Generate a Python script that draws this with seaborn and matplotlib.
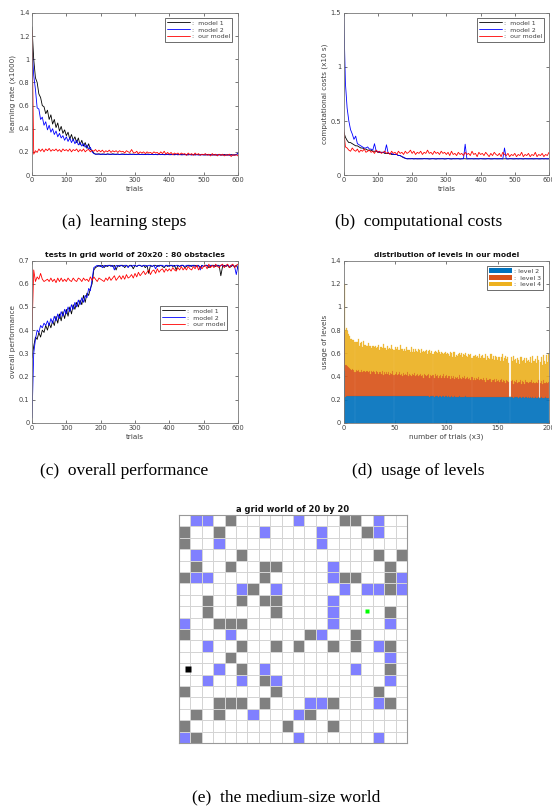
import numpy as np
import pandas as pd
import matplotlib
matplotlib.use("Agg")
import matplotlib.pyplot as plt
import seaborn as sns
from matplotlib.colors import ListedColormap
from matplotlib.ticker import FuncFormatter
from matplotlib.patches import Patch

# ---------------- data ----------------
# (a) learning rate (x1000), sampled every 5 trials from 0 to 600
a_model1 = [1.28,1.00,0.84,0.80,0.70,0.67,0.60,0.59,0.53,0.56,
            0.48,0.52,0.44,0.48,0.41,0.45,0.38,0.42,0.36,0.39,
            0.34,0.37,0.31,0.35,0.30,0.33,0.28,0.32,0.26,0.30,
            0.25,0.28,0.23,0.27,0.22,0.21,0.19,0.18,
            0.180,0.183,0.178,0.182,0.180,0.177,0.182,0.180,0.178,0.183,
            0.180,0.178,0.182,0.177,0.180,0.182,0.178,0.180,0.177,0.182,
            0.179,0.181,0.177,0.179,0.182,0.177,0.180,0.179,0.176,0.181,
            0.179,0.177,0.181,0.176,0.179,0.177,0.181,0.176,0.179,0.178,
            0.176,0.180,0.177,0.175,0.180,0.176,0.178,0.175,0.179,0.176,
            0.175,0.179,0.176,0.174,0.179,0.175,0.177,0.174,0.178,0.175,
            0.174,0.178,0.175,0.173,0.178,0.174,0.176,0.173,0.177,0.174,
            0.173,0.177,0.174,0.173,0.177,0.173,0.175,0.172,0.176,0.173,
            0.174,0.176,0.185]
a_model2 = [1.10,0.86,0.74,0.58,0.57,0.48,0.50,0.43,0.46,0.39,
            0.43,0.37,0.40,0.35,0.38,0.33,0.36,0.32,0.34,0.30,
            0.33,0.29,0.32,0.28,0.31,0.27,0.30,0.26,0.28,0.25,
            0.27,0.24,0.26,0.22,0.24,0.20,0.185,0.180,
            0.181,0.179,0.180,0.178,0.180,0.179,0.181,0.178,0.180,0.179,
            0.178,0.180,0.179,0.177,0.180,0.178,0.179,0.177,0.179,0.178,
            0.177,0.179,0.178,0.176,0.179,0.177,0.178,0.176,0.178,0.177,
            0.176,0.178,0.177,0.176,0.178,0.175,0.177,0.176,0.178,0.175,
            0.176,0.177,0.175,0.177,0.176,0.174,0.177,0.175,0.176,0.174,
            0.176,0.175,0.174,0.176,0.175,0.173,0.176,0.174,0.175,0.173,
            0.175,0.174,0.173,0.175,0.174,0.173,0.175,0.173,0.174,0.172,
            0.174,0.173,0.172,0.174,0.173,0.172,0.174,0.172,0.173,0.172,
            0.173,0.175,0.190]
a_ours = [1.25,0.18,0.21,0.195,0.225,0.205,0.225,0.20,0.225,0.21,
          0.23,0.205,0.22,0.21,0.225,0.205,0.22,0.20,0.225,0.21,
          0.22,0.205,0.225,0.20,0.22,0.21,0.225,0.20,0.22,0.205,
          0.225,0.20,0.215,0.22,0.20,0.215,0.205,0.22,0.20,0.215,
          0.20,0.215,0.195,0.21,0.20,0.215,0.195,0.21,0.20,0.21,
          0.195,0.21,0.20,0.205,0.19,0.21,0.20,0.195,0.22,0.195,
          0.19,0.205,0.185,0.20,0.19,0.20,0.185,0.20,0.19,0.195,
          0.185,0.20,0.19,0.195,0.18,0.20,0.185,0.205,0.18,0.195,
          0.18,0.195,0.175,0.19,0.18,0.19,0.175,0.19,0.18,0.185,
          0.17,0.19,0.175,0.185,0.17,0.19,0.175,0.185,0.17,0.18,
          0.175,0.185,0.17,0.18,0.165,0.185,0.17,0.18,0.165,0.18,
          0.17,0.18,0.165,0.175,0.17,0.18,0.16,0.175,0.17,0.175,0.165]

# (b) computational costs (x10 s)
b_model1 = [0.40,0.35,0.32,0.30,0.30,0.29,0.28,0.27,0.27,0.26,
            0.25,0.25,0.24,0.24,0.23,0.23,0.23,0.22,0.22,0.22,
            0.21,0.21,0.21,0.21,0.20,0.20,0.20,0.20,0.19,0.19,
            0.19,0.19,0.18,0.18,0.17,0.16,0.155,0.150,
            0.151,0.150,0.152,0.150,0.151,0.149,0.150,0.151,0.150,0.152,
            0.150,0.151,0.149,0.150,0.151,0.150,0.149,0.151,0.150,0.150,
            0.151,0.149,0.150,0.152,0.150,0.149,0.151,0.150,0.150,0.151,
            0.149,0.150,0.151,0.150,0.149,0.151,0.150,0.150,0.149,0.151,
            0.150,0.149,0.151,0.150,0.150,0.149,0.151,0.150,0.149,0.150,
            0.151,0.150,0.149,0.150,0.151,0.149,0.150,0.150,0.149,0.151,
            0.150,0.149,0.150,0.151,0.149,0.150,0.150,0.149,0.151,0.150,
            0.149,0.150,0.151,0.149,0.150,0.150,0.149,0.150,0.151,0.149,
            0.150,0.149,0.150]
b_model2 = [1.50,0.85,0.62,0.50,0.42,0.38,0.33,0.36,0.29,0.28,
            0.27,0.26,0.25,0.25,0.26,0.24,0.24,0.23,0.29,0.22,
            0.22,0.21,0.21,0.21,0.21,0.28,0.20,0.20,0.20,0.19,
            0.19,0.19,0.18,0.18,0.17,0.165,0.155,0.150,0.150,0.151,
            0.150,0.149,0.150,0.151,0.150,0.149,0.150,0.150,0.151,0.150,
            0.149,0.150,0.151,0.150,0.149,0.150,0.150,0.151,0.150,0.149,
            0.150,0.151,0.150,0.149,0.150,0.150,0.151,0.150,0.149,0.150,
            0.150,0.285,0.150,0.149,0.150,0.151,0.150,0.149,0.150,0.150,
            0.151,0.150,0.149,0.150,0.150,0.151,0.150,0.149,0.150,0.150,
            0.151,0.150,0.149,0.150,0.250,0.150,0.149,0.150,0.151,0.150,
            0.149,0.150,0.150,0.151,0.150,0.149,0.150,0.150,0.151,0.150,
            0.149,0.150,0.150,0.151,0.150,0.149,0.150,0.150,0.151,0.150,0.150]
b_ours = [0.42,0.26,0.25,0.23,0.22,0.25,0.23,0.22,0.24,0.21,
          0.23,0.22,0.24,0.21,0.22,0.23,0.21,0.22,0.20,0.23,
          0.21,0.22,0.20,0.21,0.22,0.20,0.21,0.19,0.22,0.20,
          0.21,0.19,0.22,0.20,0.21,0.19,0.22,0.20,0.21,0.23,
          0.20,0.22,0.19,0.21,0.20,0.22,0.19,0.21,0.20,0.23,
          0.20,0.21,0.19,0.22,0.20,0.21,0.19,0.22,0.20,0.21,
          0.19,0.21,0.18,0.22,0.19,0.20,0.18,0.21,0.19,0.20,
          0.18,0.21,0.19,0.20,0.18,0.22,0.19,0.20,0.17,0.21,
          0.19,0.20,0.18,0.21,0.19,0.17,0.20,0.18,0.21,0.19,
          0.18,0.20,0.17,0.21,0.19,0.18,0.20,0.17,0.19,0.18,
          0.20,0.17,0.19,0.18,0.21,0.17,0.19,0.18,0.20,0.17,
          0.19,0.18,0.21,0.17,0.19,0.18,0.20,0.17,0.19,0.18,0.21]

# (c) overall performance
c_model1 = [0.28,0.33,0.37,0.36,0.39,0.37,0.40,0.39,0.42,0.40,
            0.43,0.41,0.44,0.42,0.46,0.43,0.47,0.44,0.48,0.45,
            0.49,0.46,0.50,0.47,0.51,0.49,0.52,0.50,0.53,0.51,
            0.55,0.52,0.56,0.55,0.58,0.60,0.66,0.67,0.675,0.68,
            0.675,0.68,0.67,0.68,0.675,0.68,0.68,0.675,0.68,0.66,
            0.68,0.675,0.68,0.68,0.67,0.68,0.675,0.68,0.68,0.665,
            0.68,0.675,0.68,0.68,0.675,0.68,0.67,0.68,0.645,0.68,
            0.675,0.68,0.68,0.675,0.68,0.68,0.675,0.67,0.68,0.675,
            0.68,0.68,0.675,0.68,0.66,0.68,0.675,0.68,0.68,0.67,
            0.675,0.68,0.68,0.675,0.68,0.68,0.675,0.68,0.67,0.68,
            0.675,0.68,0.68,0.67,0.675,0.68,0.68,0.675,0.68,0.68,
            0.635,0.675,0.68,0.675,0.68,0.67,0.675,0.68,0.675,0.68,0.665]
c_model2 = [0.02,0.30,0.36,0.40,0.39,0.42,0.41,0.43,0.42,0.44,
            0.42,0.45,0.43,0.46,0.44,0.47,0.45,0.48,0.46,0.49,
            0.47,0.50,0.48,0.51,0.49,0.52,0.50,0.53,0.51,0.54,
            0.52,0.55,0.54,0.58,0.57,0.62,0.67,0.675,0.68,0.675,
            0.68,0.67,0.68,0.675,0.68,0.68,0.675,0.68,0.66,0.68,
            0.675,0.68,0.68,0.675,0.68,0.68,0.67,0.68,0.675,0.68,
            0.68,0.675,0.68,0.68,0.675,0.68,0.68,0.675,0.68,0.68,
            0.675,0.68,0.665,0.68,0.675,0.68,0.68,0.675,0.68,0.68,
            0.675,0.68,0.68,0.675,0.68,0.68,0.675,0.68,0.68,0.675,
            0.68,0.68,0.675,0.68,0.68,0.675,0.68,0.68,0.66,0.68,
            0.675,0.68,0.68,0.675,0.68,0.68,0.675,0.68,0.68,0.675,
            0.68,0.68,0.675,0.68,0.68,0.675,0.68,0.68,0.675,0.64,0.68]
c_ours = [0.40,0.66,0.61,0.63,0.62,0.645,0.62,0.61,0.615,0.62,
          0.61,0.625,0.61,0.62,0.605,0.625,0.61,0.625,0.61,0.62,
          0.61,0.625,0.615,0.61,0.625,0.615,0.61,0.625,0.62,0.61,
          0.625,0.615,0.62,0.61,0.63,0.615,0.63,0.62,0.61,0.625,
          0.62,0.615,0.61,0.625,0.615,0.63,0.615,0.625,0.635,0.615,
          0.625,0.635,0.62,0.635,0.62,0.64,0.625,0.63,0.64,0.625,
          0.645,0.63,0.65,0.635,0.645,0.655,0.64,0.65,0.66,0.64,
          0.655,0.66,0.645,0.665,0.65,0.66,0.665,0.65,0.665,0.655,
          0.665,0.655,0.67,0.66,0.655,0.67,0.66,0.675,0.66,0.67,
          0.66,0.675,0.665,0.66,0.675,0.665,0.68,0.66,0.675,0.665,
          0.675,0.68,0.665,0.685,0.67,0.68,0.67,0.685,0.675,0.67,
          0.68,0.685,0.67,0.68,0.685,0.67,0.68,0.685,0.67,0.68,0.685]

# (d) usage of levels per bar (each level's own height, stacked)
level2 = [0.45,0.22,0.23,0.23,0.235,0.235,0.23,0.235,0.235,0.235,
          0.23,0.235,0.235,0.235,0.235,0.23,0.235,0.235,0.235,0.235,
          0.235,0.235,0.23,0.235,0.235,0.235,0.235,0.235,0.23,0.235,
          0.235,0.235,0.235,0.235,0.23,0.235,0.235,0.235,0.23,0.235,
          0.235,0.23,0.235,0.235,0.235,0.23,0.235,0.235,0.23,0.235,
          0.235,0.235,0.23,0.235,0.23,0.235,0.235,0.23,0.235,0.23,
          0.23,0.235,0.23,0.23,0.235,0.23,0.23,0.235,0.23,0.23,
          0.23,0.23,0.235,0.23,0.23,0.23,0.235,0.23,0.23,0.23,
          0.23,0.23,0.23,0.225,0.23,0.23,0.23,0.225,0.23,0.23,
          0.23,0.225,0.23,0.23,0.225,0.23,0.23,0.225,0.23,0.23,
          0.225,0.23,0.225,0.225,0.23,0.225,0.225,0.23,0.225,0.225,
          0.225,0.225,0.23,0.225,0.225,0.225,0.225,0.225,0.23,0.225,
          0.225,0.225,0.225,0.225,0.225,0.22,0.225,0.225,0.225,0.225,
          0.225,0.225,0.22,0.225,0.225,0.225,0.22,0.225,0.225,0.22,
          0.225,0.22,0.225,0.22,0.22,0.225,0.22,0.22,0.225,0.22,
          0.22,0.22,0.225,0.22,0.22,0.22,0.22,0.225,0.22,0.22,
          0.22,0.22,0.22,0.22,0.215,0.22,0.22,0.22,0.22,0.215,
          0.22,0.22,0.215,0.22,0.22,0.215,0.22,0.22,0.215,0.22,
          0.215,0.22,0.215,0.22,0.215,0.215,0.22,0.215,0.215,0.22,
          0.215,0.215,0.22,0.215,0.215,0.215,0.22,0.215,0.215,0.215]
level3 = [0.33,0.28,0.27,0.26,0.25,0.24,0.23,0.22,0.23,0.22,
          0.21,0.22,0.21,0.22,0.20,0.21,0.22,0.20,0.21,0.21,
          0.20,0.21,0.22,0.20,0.21,0.19,0.21,0.20,0.22,0.20,
          0.19,0.21,0.20,0.19,0.21,0.20,0.19,0.21,0.18,0.20,
          0.19,0.21,0.19,0.20,0.18,0.20,0.19,0.21,0.18,0.19,
          0.20,0.18,0.19,0.20,0.18,0.19,0.17,0.20,0.18,0.19,
          0.18,0.20,0.17,0.19,0.18,0.17,0.19,0.18,0.20,0.17,
          0.18,0.19,0.17,0.18,0.19,0.17,0.18,0.16,0.19,0.18,
          0.17,0.18,0.19,0.16,0.18,0.17,0.18,0.16,0.19,0.17,
          0.18,0.16,0.17,0.18,0.16,0.17,0.19,0.16,0.17,0.18,
          0.16,0.17,0.18,0.15,0.17,0.16,0.18,0.15,0.17,0.16,
          0.17,0.15,0.18,0.16,0.15,0.17,0.16,0.18,0.15,0.16,
          0.17,0.15,0.16,0.14,0.17,0.15,0.16,0.14,0.16,0.15,
          0.17,0.14,0.16,0.15,0.14,0.16,0.15,0.13,0.16,0.15,
          0.14,0.16,0.15,0.13,0.15,0.14,0.16,0.13,0.15,0.14,
          0.15,0.13,0.14,0.16,0.13,0.15,0.14,0.12,0.15,0.14,
          0.13,0.00,0.14,0.15,0.12,0.14,0.13,0.15,0.12,0.14,
          0.13,0.15,0.12,0.14,0.13,0.12,0.15,0.13,0.14,0.12,
          0.14,0.13,0.15,0.12,0.14,0.13,0.12,0.14,0.13,0.15,
          0.00,0.13,0.14,0.12,0.15,0.13,0.12,0.14,0.13,0.14]
level4 = [0.42,0.30,0.32,0.30,0.28,0.27,0.26,0.27,0.25,0.26,
          0.26,0.24,0.25,0.27,0.23,0.25,0.24,0.22,0.26,0.23,
          0.24,0.22,0.21,0.25,0.22,0.24,0.20,0.23,0.21,0.22,
          0.24,0.20,0.22,0.25,0.19,0.22,0.23,0.20,0.27,0.21,
          0.22,0.19,0.24,0.20,0.23,0.21,0.25,0.19,0.22,0.23,
          0.20,0.24,0.21,0.19,0.26,0.21,0.23,0.19,0.22,0.20,
          0.24,0.19,0.23,0.21,0.20,0.25,0.19,0.22,0.18,0.24,
          0.21,0.19,0.23,0.22,0.18,0.24,0.20,0.23,0.19,0.21,
          0.23,0.18,0.20,0.24,0.19,0.22,0.18,0.23,0.20,0.21,
          0.19,0.24,0.21,0.18,0.23,0.20,0.17,0.22,0.21,0.18,
          0.22,0.19,0.17,0.24,0.20,0.18,0.21,0.23,0.17,0.20,
          0.18,0.22,0.19,0.20,0.23,0.17,0.21,0.18,0.22,0.19,
          0.17,0.22,0.20,0.23,0.16,0.21,0.19,0.22,0.18,0.20,
          0.16,0.23,0.18,0.20,0.22,0.17,0.19,0.24,0.16,0.21,
          0.19,0.17,0.22,0.24,0.18,0.21,0.16,0.23,0.19,0.18,
          0.20,0.22,0.17,0.19,0.24,0.16,0.20,0.23,0.18,0.21,
          0.17,0.00,0.21,0.16,0.24,0.18,0.20,0.15,0.22,0.19,
          0.16,0.20,0.23,0.17,0.19,0.22,0.15,0.21,0.18,0.20,
          0.17,0.22,0.15,0.24,0.18,0.19,0.21,0.16,0.23,0.17,
          0.00,0.18,0.21,0.16,0.22,0.19,0.17,0.23,0.18,0.24]

# (e) grid world: '.' free, 'g' gray obstacle, 'b' blue cell
grid_rows = [
    ".bb.g.....b...gg.b..",
    "g..g...b....b...gb..",
    "g..b........b.......",
    ".b...g...........g.g",
    ".g..g..gg....b....g.",
    "gbb....g.....bgg..gb",
    ".....bg.b.....b.bbgb",
    "..g..g.gg....b......",
    "..g.....g....b....g.",
    "b..ggg.......b....b.",
    "g...b......gb..g....",
    "..b..g..g.g..g.g.bg.",
    "....g.............b.",
    "...b.g.b.......b..g.",
    "..b..b.gb.........b.",
    "g.......g........g..",
    "...ggg.g...bbg...bg.",
    ".g.g..b...bg........",
    "g........g...g......",
    "bg........b......b..",
]
agent_cell = (13, 0)   # (row, col)
goal_cell = (8, 16)

line_labels = [":  model 1", ":  model 2", ":  our model"]
line_colors = ["black", "#0000ff", "#ff0000"]
level_labels = [": level 2", ":  level 3", ":  level 4"]
level_colors = ["#0072BD", "#D95319", "#EDB120"]

# ---------------- style ----------------
sns.set_theme(style="white")
plt.rcParams["font.family"] = ["DejaVu Sans"]
TXT = "#404040"

fig = plt.figure(figsize=(5.52, 8.10), dpi=100)
W, H = 552.0, 810.0

def add_ax(x0, y0, x1, y1):
    return fig.add_axes([x0 / W, 1 - y1 / H, (x1 - x0) / W, (y1 - y0) / H])

fmt = FuncFormatter(lambda v, p: f"{v:g}")

def style_ax(ax, xlim, ylim, xticks, yticks):
    ax.set_xlim(*xlim)
    ax.set_ylim(*ylim)
    ax.set_xticks(xticks)
    ax.set_yticks(yticks)
    ax.xaxis.set_major_formatter(fmt)
    ax.yaxis.set_major_formatter(fmt)
    ax.tick_params(direction="in", length=2.2, width=0.5, labelsize=4.8,
                   colors=TXT, top=True, right=True, bottom=True, left=True, pad=1.8)
    for s in ax.spines.values():
        s.set_visible(True)
        s.set_color("#777777")
        s.set_linewidth(0.6)

def add_legend(ax, anchor, handles=None, labels=None):
    kw = dict(loc="upper right", bbox_to_anchor=anchor, borderaxespad=0,
              fontsize=4.5, frameon=True, fancybox=False, framealpha=1,
              edgecolor="#555555", handlelength=3.6, handletextpad=0.3,
              borderpad=0.35, labelspacing=0.25)
    if handles is not None:
        leg = ax.legend(handles, labels, **kw)
    else:
        leg = ax.legend(**kw)
    leg.get_frame().set_linewidth(0.6)
    for t in leg.get_texts():
        t.set_color(TXT)
    return leg

def draw_lines(ax, series_list):
    for vals, col, lab in zip(series_list, line_colors, line_labels):
        x = np.linspace(0, 600, len(vals))
        df = pd.DataFrame({"trials": x, "value": vals})
        sns.lineplot(data=df, x="trials", y="value", ax=ax, color=col,
                     lw=0.6, label=lab, estimator=None, sort=False)

def labels(ax, xl, yl, title=None):
    ax.set_xlabel(xl, fontsize=5.2, color=TXT, labelpad=2)
    ax.set_ylabel(yl, fontsize=5.2, color=TXT, labelpad=2)
    if title:
        ax.set_title(title, fontsize=5.4, fontweight="bold", color="#111111", pad=2.5)

# (a)
ax_a = add_ax(32, 13, 238, 175)
draw_lines(ax_a, [a_model1, a_model2, a_ours])
style_ax(ax_a, (0, 600), (0, 1.4), range(0, 601, 100), np.arange(0, 1.41, 0.2))
labels(ax_a, "trials", "learning rate (x1000)")
add_legend(ax_a, (0.971, 0.969))

# (b)
ax_b = add_ax(343.7, 13, 549, 175)
draw_lines(ax_b, [b_model1, b_model2, b_ours])
style_ax(ax_b, (0, 600), (0, 1.5), range(0, 601, 100), [0, 0.5, 1, 1.5])
labels(ax_b, "trials", "computational costs (x10 s)")
add_legend(ax_b, (0.976, 0.969))

# (c)
ax_c = add_ax(32, 260.7, 238, 422.7)
draw_lines(ax_c, [c_model1, c_model2, c_ours])
style_ax(ax_c, (0, 600), (0, 0.7), range(0, 601, 100), np.arange(0, 0.71, 0.1))
labels(ax_c, "trials", "overall performance", "tests in grid world of 20x20 : 80 obstacles")
add_legend(ax_c, (0.947, 0.72))

# (d)
ax_d = add_ax(343.7, 260.7, 549, 422.7)
bx = np.arange(1, len(level2) + 1)
l2 = np.array(level2); l3 = np.array(level3); l4 = np.array(level4)
bar_kw = dict(width=1.0, linewidth=0.2, alpha=0.85)
ax_d.bar(bx, l2, color=level_colors[0], edgecolor=level_colors[0], **bar_kw)
ax_d.bar(bx, l3, bottom=l2, color=level_colors[1], edgecolor=level_colors[1], **bar_kw)
ax_d.bar(bx, l4, bottom=l2 + l3, color=level_colors[2], edgecolor=level_colors[2], **bar_kw)
style_ax(ax_d, (0, 200), (0, 1.4), [0, 50, 100, 150, 200], np.arange(0, 1.41, 0.2))
labels(ax_d, "number of trials (x3)", "usage of levels", "distribution of levels in our model")
handles = [Patch(facecolor=c, edgecolor="none") for c in level_colors]
add_legend(ax_d, (0.971, 0.967), handles, level_labels)

# (e)
code = {".": 0, "g": 1, "b": 2}
mat = np.array([[code[ch] for ch in row] for row in grid_rows])
ax_e = add_ax(179, 515, 407, 743)
cmap = ListedColormap(["#ffffff", "#808080", "#8080ff"])
sns.heatmap(mat, ax=ax_e, cmap=cmap, vmin=-0.5, vmax=2.5, cbar=False,
            linewidths=0.5, linecolor="#d4d4d4", xticklabels=False, yticklabels=False)
ax_e.plot(agent_cell[1] + 0.8, agent_cell[0] + 0.48, "s", color="black", ms=4.3, mec="none")
ax_e.plot(goal_cell[1] + 0.5, goal_cell[0] + 0.45, "s", color="#00ff00", ms=3.3, mec="none")
ax_e.set_xticks(np.arange(0, 21))
ax_e.set_yticks(np.arange(0, 21))
ax_e.set_xticklabels([])
ax_e.set_yticklabels([])
ax_e.tick_params(direction="in", length=2, width=0.5, colors="#555555",
                 bottom=True, left=True, top=False, right=False)
for s in ax_e.spines.values():
    s.set_visible(True)
    s.set_color("#999999")
    s.set_linewidth(0.8)
ax_e.set_title("a grid world of 20 by 20", fontsize=6, fontweight="bold", color="#111111", pad=2.5)

# captions
cap = dict(fontfamily="Liberation Serif", fontsize=12.5, ha="center", va="center", color="black")
fig.text(124 / W, 1 - 222 / H, "(a)  learning steps", **cap)
fig.text(419 / W, 1 - 222 / H, "(b)  computational costs", **cap)
fig.text(124 / W, 1 - 471 / H, "(c)  overall performance", **cap)
fig.text(418 / W, 1 - 471 / H, "(d)  usage of levels", **cap)
fig.text(286 / W, 1 - 797 / H, "(e)  the medium-size world", **cap)

fig.savefig("out.png", dpi=100, facecolor="white")
